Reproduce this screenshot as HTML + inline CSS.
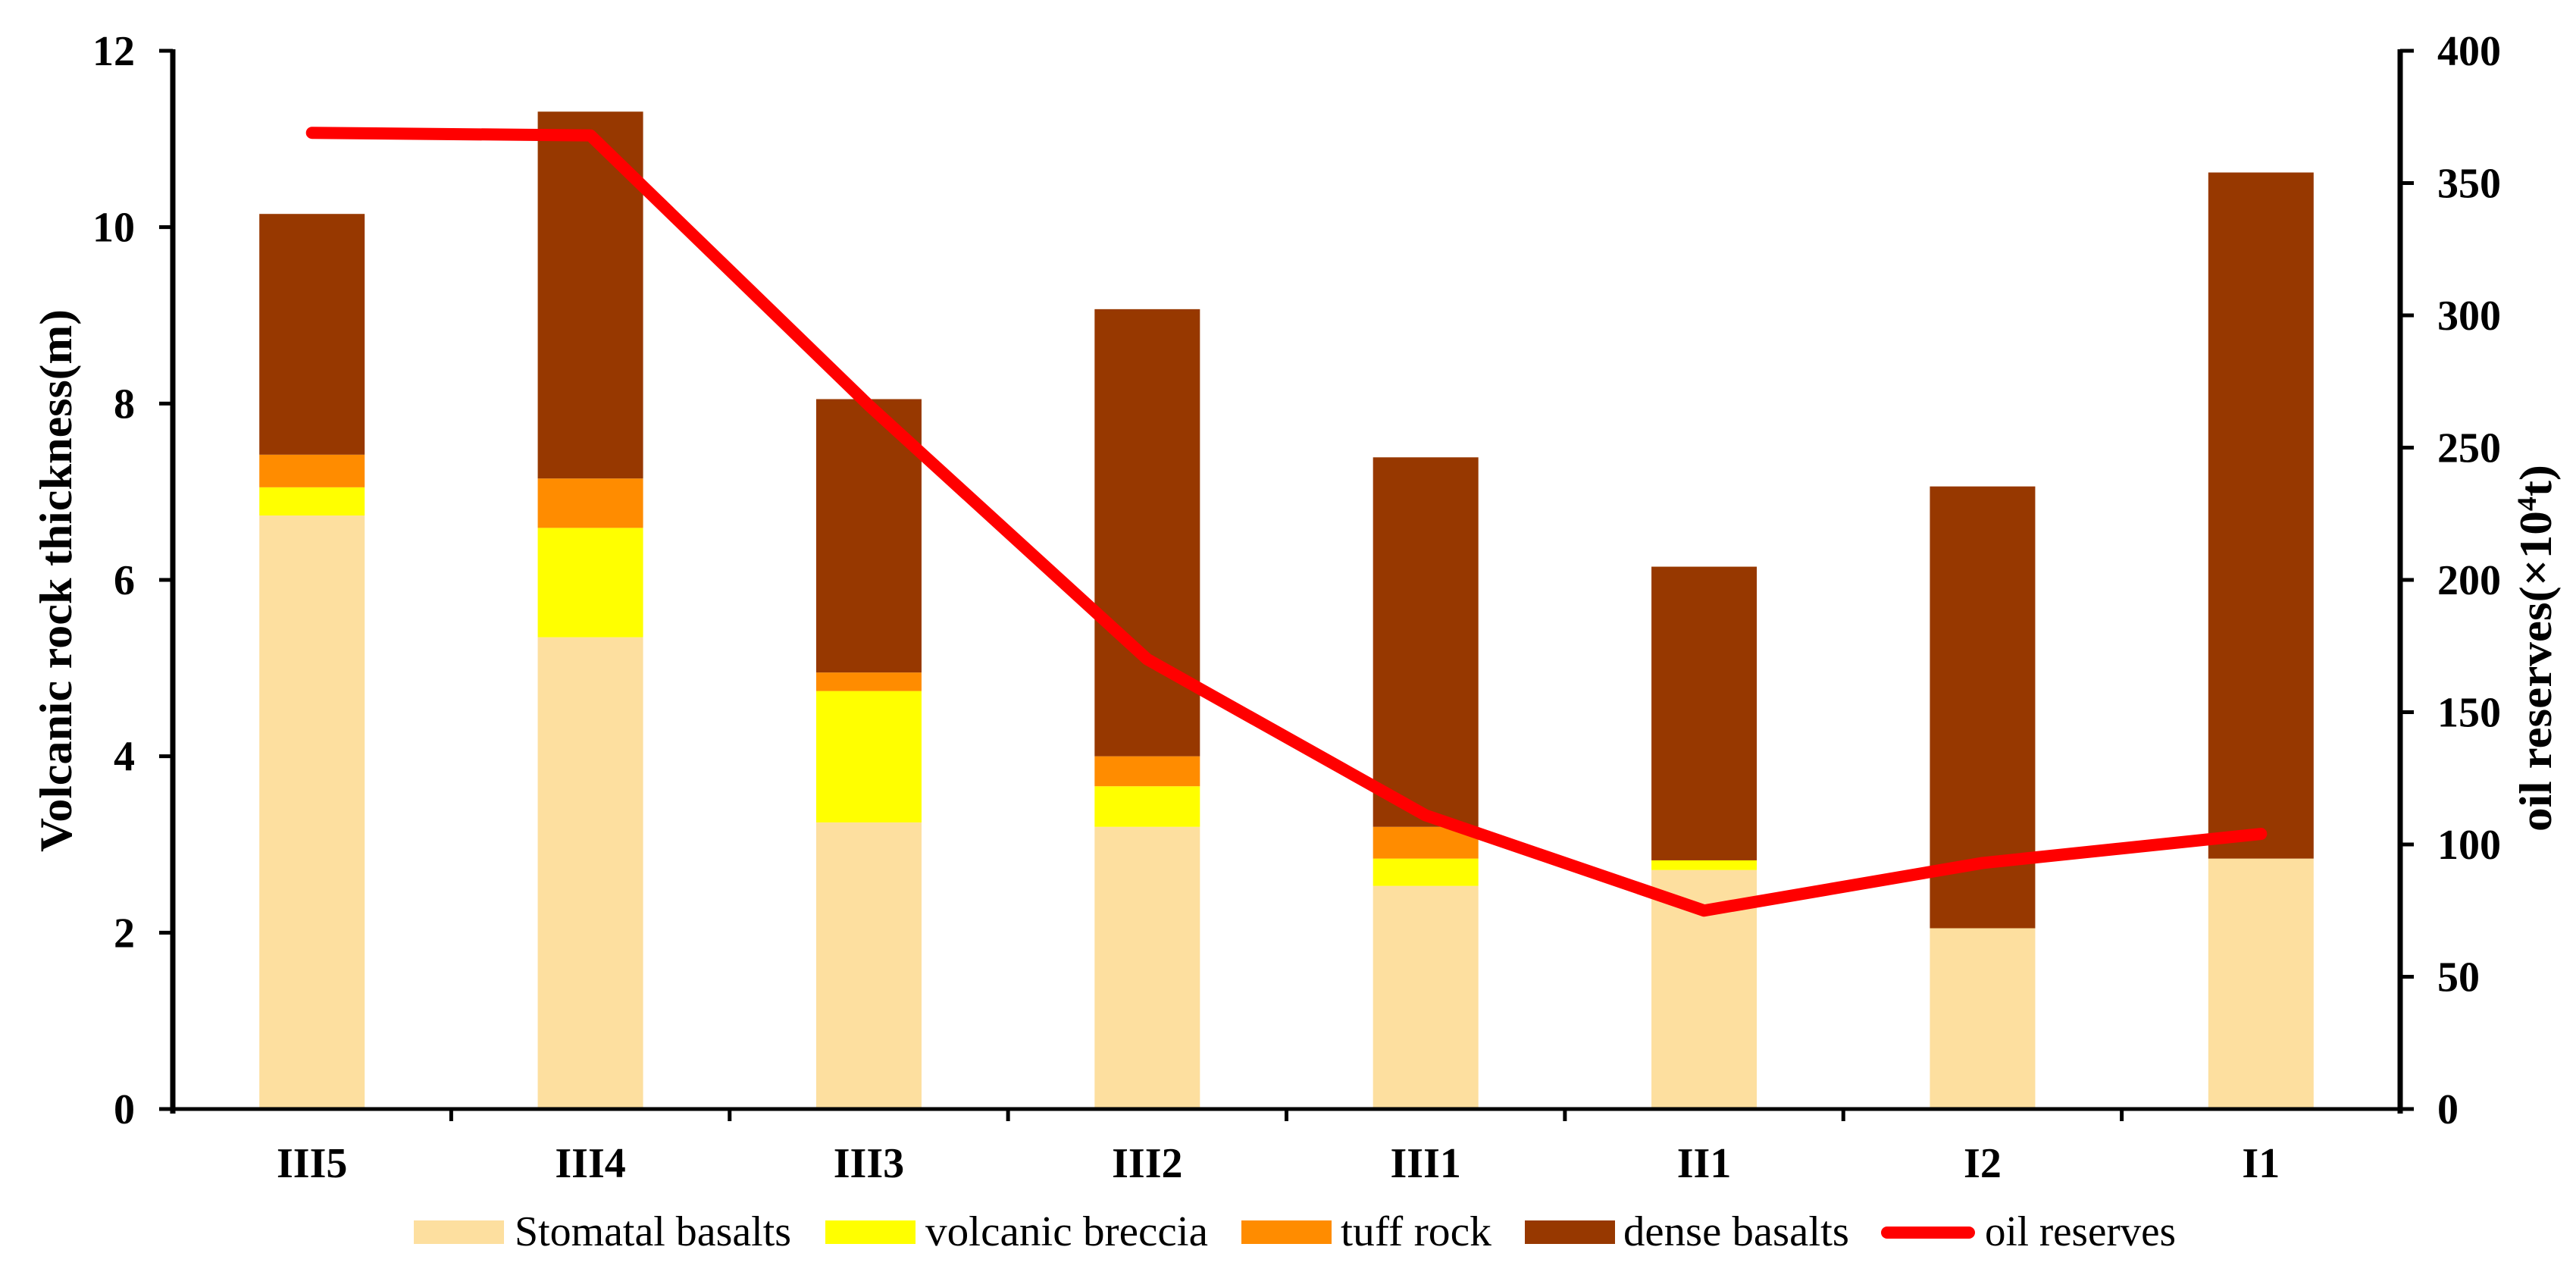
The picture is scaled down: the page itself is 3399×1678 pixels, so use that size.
<!DOCTYPE html>
<html><head><meta charset="utf-8"><style>
html,body{margin:0;padding:0;background:#fff;}
svg{display:block;font-family:"Liberation Serif",serif;}
</style></head><body>
<svg id="chart" width="3399" height="1678" viewBox="0 0 3399 1678" xmlns="http://www.w3.org/2000/svg">
<g id="bars"></g>
<g id="line"></g>
<g id="axes"></g>
<text transform="translate(94,766) rotate(-90)" text-anchor="middle" font-size="60" font-weight="bold" textLength="716" lengthAdjust="spacingAndGlyphs">Volcanic rock thickness(m)</text>
<text transform="translate(3366,855) rotate(-90)" text-anchor="middle" font-size="60" font-weight="bold" textLength="484" lengthAdjust="spacingAndGlyphs">oil reserves(×10<tspan font-size="36" dy="-20">4</tspan><tspan dy="20">t)</tspan></text>
<g id="legend"></g>
</svg>
<script>
const categories = ["III5","III4","III3","III2","III1","II1","I2","I1"];
const stomatal = [6.73,5.35,3.25,3.20,2.53,2.71,2.05,2.84];
const breccia  = [0.32,1.24,1.49,0.46,0.31,0.11,0,0];
const tuff     = [0.37,0.56,0.21,0.34,0.36,0,0,0];
const dense    = [2.73,4.16,3.10,5.07,4.19,3.33,5.01,7.78];
const oil      = [369,368,266,170,111,75,93,104];
const yTicks = [0,2,4,6,8,10,12];
const y2Ticks = [0,50,100,150,200,250,300,350,400];

const NS="http://www.w3.org/2000/svg";
const X0=228, X1=3167, Y0=1463, Ytop=67;
const band=(X1-X0)/categories.length;
const xc=i=>X0+band*(i+0.5);
const yL=v=>Y0-(v/12)*(Y0-Ytop);
const yR=v=>Y0-(v/400)*(Y0-Ytop);
function el(tag,attrs,parent){const e=document.createElementNS(NS,tag);for(const k in attrs)e.setAttribute(k,attrs[k]);parent.appendChild(e);return e;}

const series=[[stomatal,"#FDDF9F","stomatal-basalts"],[breccia,"#FFFF00","volcanic-breccia"],[tuff,"#FF8C00","tuff-rock"],[dense,"#973800","dense-basalts"]];
const gb=document.getElementById("bars");
const bw=139;
categories.forEach((c,i)=>{
  let base=0;
  series.forEach(([arr,col,nm])=>{
    const v=arr[i]; if(v<=0)return;
    const r=el("rect",{x:xc(i)-bw/2,y:yL(base+v),width:bw,height:yL(base)-yL(base+v),fill:col},gb);
    
    
    base+=v;
  });
});

const gl=document.getElementById("line");
const pts=oil.map((v,i)=>xc(i)+","+yR(v)).join(" ");
const pl=el("polyline",{points:pts,fill:"none",stroke:"#FF0000","stroke-width":16,"stroke-linejoin":"round","stroke-linecap":"round"},gl);



const ga=document.getElementById("axes");
el("line",{x1:X0,y1:Ytop-2,x2:X0,y2:Y0+6,stroke:"#000","stroke-width":7},ga);
el("line",{x1:X1,y1:Ytop-2,x2:X1,y2:Y0+6,stroke:"#000","stroke-width":7},ga);
el("line",{x1:X0,y1:Y0,x2:X1,y2:Y0,stroke:"#000","stroke-width":5},ga);
yTicks.forEach(t=>{
  el("line",{x1:X0-18,y1:yL(t),x2:X0,y2:yL(t),stroke:"#000","stroke-width":5},ga);
  const tx=el("text",{x:178,y:yL(t)+19,"text-anchor":"end","font-size":56,"font-weight":"bold"},ga);
  tx.textContent=t;
  
  
});
y2Ticks.forEach(t=>{
  el("line",{x1:X1,y1:yR(t),x2:X1+18,y2:yR(t),stroke:"#000","stroke-width":5},ga);
  const tx=el("text",{x:3216,y:yR(t)+19,"text-anchor":"start","font-size":56,"font-weight":"bold"},ga);
  tx.textContent=t;
  
  
});
for(let i=1;i<categories.length;i++){
  el("line",{x1:X0+band*i,y1:Y0,x2:X0+band*i,y2:Y0+16,stroke:"#000","stroke-width":5},ga);
}
categories.forEach((c,i)=>{
  const tx=el("text",{x:xc(i),y:1553,"text-anchor":"middle","font-size":56,"font-weight":"bold"},ga);
  tx.textContent=c;
  
  
});

const gLeg=document.getElementById("legend");
const legItems=[["Stomatal basalts","#FDDF9F",546,679,365,"rect"],["volcanic breccia","#FFFF00",1089,1221,373,"rect"],["tuff rock","#FF8C00",1638,1769,199,"rect"],["dense basalts","#973800",2012,2142,298,"rect"],["oil reserves","#FF0000",2482,2619,252,"line"]];
legItems.forEach(([lab,col,sx,tx,tl,kind])=>{
  const g=el("g",{},gLeg);
  
  
  if(kind==="rect") el("rect",{x:sx,y:1610,width:119,height:31,fill:col},g);
  else el("line",{x1:sx+8,y1:1626,x2:sx+116,y2:1626,stroke:col,"stroke-width":16,"stroke-linecap":"round"},g);
  const t=el("text",{x:tx,y:1643,"font-size":56,textLength:tl,lengthAdjust:"spacingAndGlyphs"},g);
  t.textContent=lab;
});
</script>
</body></html>
